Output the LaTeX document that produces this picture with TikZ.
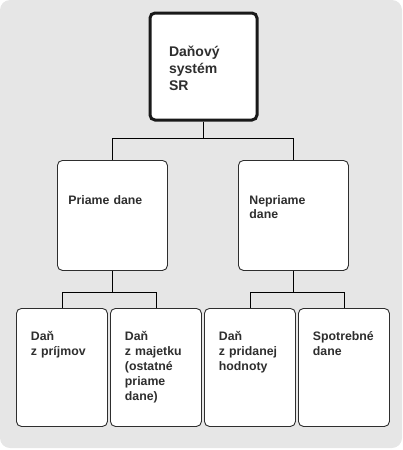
\documentclass[tikz,border=0pt]{standalone}
\usepackage{fontspec}
\setmainfont{Liberation Sans}
\definecolor{panel}{HTML}{E6E6E6}
\definecolor{ink}{HTML}{2E2E2E}

\begin{document}
\begin{tikzpicture}[x=1pt,y=-1pt,line width=0.9pt]
  \tikzstyle{taxbox}=[draw=ink,fill=white,rounded corners=5pt,anchor=north west,align=left,text=ink]
  \tikzstyle{mainbox}=[taxbox,draw=black!90,line width=3pt,text width=69pt,inner xsep=19pt,inner ysep=32.5pt,text height=11pt,text depth=31pt,font=\fontsize{14}{17}\selectfont\bfseries]
  \tikzstyle{groupbox}=[taxbox,text width=88pt,inner xsep=11pt,inner ysep=34pt,text height=10pt,text depth=32pt,font=\fontsize{12.3}{14}\selectfont\bfseries]
  \tikzstyle{leafbox}=[taxbox,text width=62pt,inner xsep=14.5pt,inner ysep=22pt,text height=10pt,text depth=64pt,font=\fontsize{12.3}{15}\selectfont\bfseries]

  \useasboundingbox (0,0) rectangle (403,450);
  \fill[panel,rounded corners=10pt] (0,0) rectangle (402,448);

  \node[mainbox]  (sr)        at (148.5,11.5) {Daňový\\systém\\SR};
  \node[groupbox] (priame)    at (57,160)  {Priame dane};
  \node[groupbox] (nepriame)  at (238,160) {Nepriame\\dane};
  \node[leafbox]  (prijmy)    at (16,308)  {Daň\\z príjmov};
  \node[leafbox]  (majetok)   at (110,308) {Daň\\z majetku\\(ostatné\\priame\\dane)};
  \node[leafbox]  (dph)       at (204,308) {Daň\\z pridanej\\hodnoty};
  \node[leafbox]  (spotrebne) at (298,308) {Spotrebné\\dane};

  \draw (sr.south) -- ++(0,17) -| (priame.north);
  \draw (sr.south) -- ++(0,17) -| (nepriame.north);
  \draw (priame.south) -- ++(0,22) -| (prijmy.north);
  \draw (priame.south) -- ++(0,22) -| (majetok.north);
  \draw (nepriame.south) -- ++(0,22) -| (dph.north);
  \draw (nepriame.south) -- ++(0,22) -| (spotrebne.north);
\end{tikzpicture}
\end{document}
